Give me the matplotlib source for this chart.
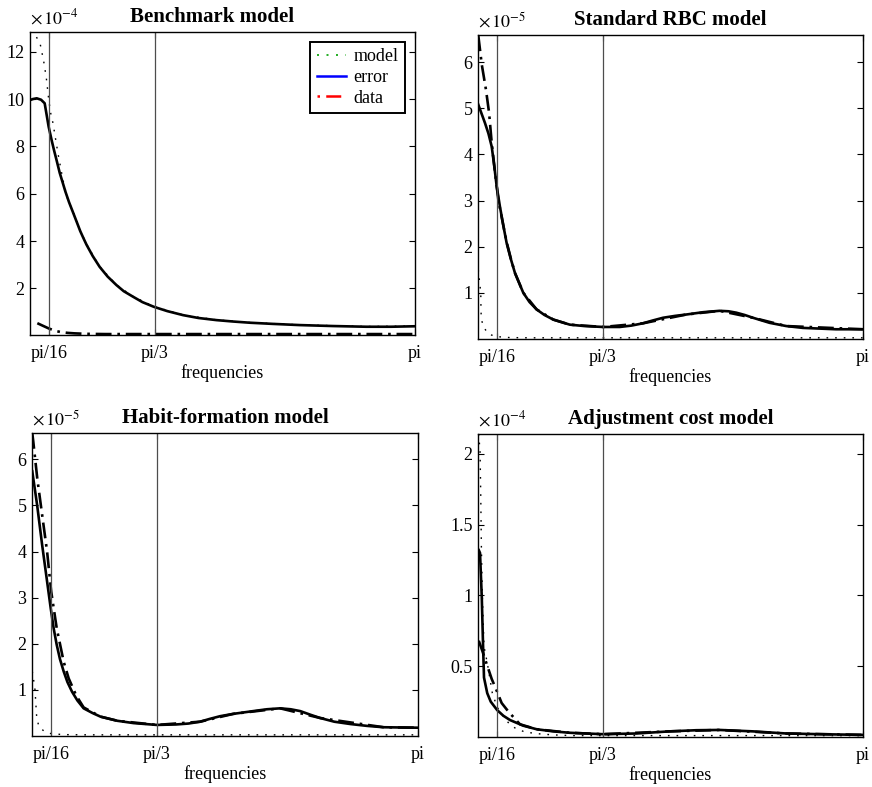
import numpy as np
import matplotlib.pyplot as plt
from matplotlib.lines import Line2D

plt.rcParams['font.family'] = ['Liberation Serif', 'DejaVu Serif']
plt.rcParams['mathtext.fontset'] = 'stix'
plt.rcParams['font.size'] = 13

# frequencies in radians; spectra in units of the power printed above each axis

# Benchmark model (x 1e-4)
bench_model_x = [0.043, 0.07, 0.097, 0.129, 0.156, 0.177, 0.194, 0.21, 0.23, 0.271, 0.311, 0.351,
                 0.392, 0.45, 0.5, 0.606, 0.741, 0.874, 1.043, 1.277, 1.545, 1.813, 2.215, 2.75, 3.14]
bench_model_y = [12.83, 12.75, 12.63, 12.3, 11.6, 10.9, 10.1, 9.46, 9.0, 7.7, 6.58, 5.73,
                 5.25, 4.45, 3.87, 2.92, 2.15, 1.66, 1.23, 0.88, 0.67, 0.56, 0.46, 0.39, 0.41]
bench_err_x = [0.043, 0.07, 0.1, 0.135, 0.164, 0.196, 0.22, 0.24, 0.26, 0.285, 0.31, 0.33, 0.36,
               0.392, 0.42, 0.45, 0.475, 0.5, 0.55, 0.606, 0.67, 0.741, 0.8, 0.874, 0.95, 1.043,
               1.15, 1.277, 1.4, 1.545, 1.68, 1.813, 2.0, 2.215, 2.48, 2.75, 2.95, 3.14]
bench_err_y = [9.95, 10.0, 10.03, 9.97, 9.82, 8.83, 8.26, 7.82, 7.41, 6.88, 6.45, 6.1, 5.64,
               5.21, 4.83, 4.42, 4.13, 3.85, 3.37, 2.91, 2.5, 2.14, 1.88, 1.65, 1.42, 1.22,
               1.04, 0.87, 0.75, 0.66, 0.6, 0.55, 0.5, 0.45, 0.41, 0.38, 0.38, 0.40]
bench_data_x = [0.105, 0.15, 0.196, 0.252, 0.3, 0.35, 0.405, 0.5, 0.65, 0.8, 1.0, 1.3, 1.6, 2.0, 2.4, 2.8, 3.14]
bench_data_y = [0.53, 0.42, 0.31, 0.2, 0.15, 0.12, 0.1, 0.08, 0.07, 0.07, 0.07, 0.07, 0.07, 0.07, 0.07, 0.07, 0.07]

# Standard RBC model (x 1e-5)
rbc_model_x = [0.048, 0.06, 0.068, 0.07, 0.073, 0.094, 0.134, 0.2, 0.3, 0.45, 0.7, 1.0, 1.5, 2.0, 2.5, 3.14]
rbc_model_y = [1.5, 1.2, 1.0, 0.6, 0.42, 0.24, 0.10, 0.05, 0.03, 0.025, 0.025, 0.025, 0.025, 0.025, 0.025, 0.025]
rbc_err_x = [0.048, 0.075, 0.102, 0.13, 0.156, 0.176, 0.196, 0.222, 0.25, 0.276, 0.31, 0.343, 0.41,
             0.46, 0.517, 0.58, 0.651, 0.784, 0.9, 1.052, 1.186, 1.28, 1.373, 1.45, 1.534, 1.63,
             1.721, 1.855, 1.988, 2.06, 2.122, 2.19, 2.256, 2.39, 2.524, 2.658, 2.925, 3.14]
rbc_err_y = [5.08, 4.88, 4.68, 4.45, 4.17, 3.76, 3.31, 2.87, 2.45, 2.08, 1.73, 1.43, 1.0,
             0.8, 0.64, 0.52, 0.42, 0.31, 0.28, 0.26, 0.26, 0.29, 0.34, 0.4, 0.46, 0.5,
             0.53, 0.58, 0.61, 0.6, 0.57, 0.52, 0.46, 0.35, 0.28, 0.24, 0.21, 0.21]
rbc_data_x = [0.048, 0.076, 0.11, 0.135, 0.156, 0.183, 0.21, 0.25, 0.276, 0.31, 0.343, 0.41, 0.517,
              0.651, 0.784, 1.052, 1.373, 1.721, 1.988, 2.256, 2.524, 3.14]
rbc_data_y = [6.58, 5.95, 5.4, 4.9, 4.25, 3.6, 3.0, 2.45, 2.1, 1.74, 1.43, 1.0, 0.64,
              0.42, 0.31, 0.26, 0.34, 0.53, 0.61, 0.46, 0.28, 0.21]

# Habit-formation model (x 1e-5)
habit_model_x = [0.048, 0.06, 0.07, 0.084, 0.102, 0.145, 0.2, 0.3, 0.5, 1.0, 1.5, 2.0, 2.5, 3.14]
habit_model_y = [1.4, 1.2, 1.0, 0.39, 0.2, 0.1, 0.05, 0.03, 0.025, 0.025, 0.025, 0.025, 0.025, 0.025]
habit_err_x = [0.048, 0.087, 0.127, 0.167, 0.196, 0.22, 0.244, 0.27, 0.3, 0.33, 0.367, 0.41, 0.46,
               0.53, 0.595, 0.73, 0.86, 1.047, 1.2, 1.3, 1.394, 1.47, 1.555, 1.66, 1.82, 1.93,
               2.036, 2.12, 2.197, 2.28, 2.357, 2.47, 2.598, 2.73, 2.865, 3.14]
habit_err_y = [5.74, 5.01, 4.15, 3.35, 2.77, 2.33, 1.98, 1.67, 1.40, 1.17, 0.96, 0.77, 0.60,
               0.5, 0.42, 0.33, 0.28, 0.24, 0.25, 0.27, 0.31, 0.37, 0.43, 0.48, 0.54, 0.58,
               0.60, 0.58, 0.54, 0.46, 0.39, 0.31, 0.26, 0.22, 0.19, 0.18]
habit_data_x = [0.048, 0.056, 0.088, 0.127, 0.167, 0.2, 0.244, 0.3, 0.34, 0.4, 0.46, 0.595, 0.73,
                1.047, 1.394, 1.66, 2.036, 2.357, 2.865, 3.14]
habit_data_y = [6.57, 6.39, 5.59, 4.8, 4.0, 3.13, 2.34, 1.61, 1.25, 0.88, 0.62, 0.42, 0.33,
                0.24, 0.31, 0.48, 0.60, 0.39, 0.19, 0.18]

# Adjustment cost model (x 1e-4)
adj_model_x = [0.05, 0.062, 0.068, 0.073, 0.081, 0.094, 0.121, 0.161, 0.2, 0.255, 0.3, 0.35, 0.41,
               0.5, 0.65, 0.8, 1.0, 1.5, 2.0, 2.5, 3.14]
adj_model_y = [2.14, 2.03, 1.70, 1.34, 0.99, 0.64, 0.52, 0.31, 0.21, 0.14, 0.09, 0.06, 0.04,
               0.025, 0.015, 0.01, 0.01, 0.01, 0.01, 0.01, 0.01]
adj_err_x = [0.052, 0.062, 0.076, 0.086, 0.094, 0.12, 0.148, 0.2, 0.25, 0.303, 0.41, 0.517, 0.65,
             0.784, 1.052, 1.32, 1.587, 1.8, 1.988, 2.256, 2.524, 2.8, 3.14]
adj_err_y = [1.32, 1.30, 0.99, 0.66, 0.42, 0.31, 0.25, 0.19, 0.15, 0.12, 0.08, 0.055, 0.04,
             0.03, 0.02, 0.025, 0.04, 0.048, 0.05, 0.04, 0.025, 0.02, 0.015]
adj_data_x = [0.052, 0.084, 0.11, 0.156, 0.19, 0.236, 0.29, 0.383, 0.517, 0.784, 1.052, 1.587,
              1.988, 2.524, 3.14]
adj_data_y = [0.68, 0.6, 0.53, 0.41, 0.34, 0.24, 0.18, 0.09, 0.055, 0.03, 0.02, 0.04,
              0.05, 0.025, 0.015]

freq_ticks = [np.pi / 16, np.pi / 3, np.pi]
freq_labels = ['pi/16', 'pi/3', 'pi']
xmin = 0.046


def drawPanel(ax, title, expo, model, error, data, ylim, yticks, yticklabels, title_x=0.5):
    ax.plot(model[0], model[1], color='k', linestyle=(0, (1.2, 5)), linewidth=1.0)
    ax.plot(error[0], error[1], color='k', linestyle='-', linewidth=1.9)
    ax.plot(data[0], data[1], color='k', linestyle=(0, (6, 2.2, 1, 2.2)), linewidth=1.9)

    # band limits
    for f in (np.pi / 16, np.pi / 3):
        ax.axvline(f, color='0.3', linewidth=0.9)

    ax.set_xlim(xmin, np.pi)
    ax.set_ylim(ylim)
    ax.set_xticks(freq_ticks)
    ax.set_xticklabels(freq_labels)
    ax.set_yticks(yticks)
    ax.set_yticklabels(yticklabels)
    ax.tick_params(direction='in', top=True, right=True, length=4, width=0.8)
    ax.tick_params(axis='x', pad=7)
    ax.tick_params(axis='y', pad=4)
    for s in ax.spines.values():
        s.set_linewidth(1.0)
    ax.set_xlabel('frequencies', labelpad=2)
    ax.set_title(title, fontweight='bold', fontsize=15, pad=7, x=title_x)
    ax.text(0.0, 1.012, r'$\times\,10^{%d}$' % expo, transform=ax.transAxes,
            ha='left', va='bottom', fontsize=13)


fig = plt.figure(figsize=(8.72, 7.87), dpi=100)
ax1 = fig.add_axes([0.0344, 0.5743, 0.4415, 0.3850])
ax2 = fig.add_axes([0.5482, 0.5693, 0.4415, 0.3863])
ax3 = fig.add_axes([0.0367, 0.0648, 0.4427, 0.3850])
ax4 = fig.add_axes([0.5482, 0.0635, 0.4415, 0.3850])

drawPanel(ax1, 'Benchmark model', -4,
          (bench_model_x, bench_model_y), (bench_err_x, bench_err_y), (bench_data_x, bench_data_y),
          (0.03, 12.83), [2, 4, 6, 8, 10, 12], ['2', '4', '6', '8', '10', '12'], title_x=0.474)
drawPanel(ax2, 'Standard RBC model', -5,
          (rbc_model_x, rbc_model_y), (rbc_err_x, rbc_err_y), (rbc_data_x, rbc_data_y),
          (0.0, 6.59), [1, 2, 3, 4, 5, 6], ['1', '2', '3', '4', '5', '6'])
drawPanel(ax3, 'Habit-formation model', -5,
          (habit_model_x, habit_model_y), (habit_err_x, habit_err_y), (habit_data_x, habit_data_y),
          (0.0, 6.57), [1, 2, 3, 4, 5, 6], ['1', '2', '3', '4', '5', '6'])
drawPanel(ax4, 'Adjustment cost model', -4,
          (adj_model_x, adj_model_y), (adj_err_x, adj_err_y), (adj_data_x, adj_data_y),
          (0.0, 2.14), [0.5, 1, 1.5, 2], ['0.5', '1', '1.5', '2'])

# legend keeps the coloured line styles
handles = [Line2D([], [], color='#00a000', linestyle=(0, (1.2, 4.5)), linewidth=1.2),
           Line2D([], [], color='#0000ff', linestyle='-', linewidth=1.8),
           Line2D([], [], color='#ff0000', linestyle=(0, (1, 2.5, 6, 2.5)), linewidth=1.8)]
leg = ax1.legend(handles, ['model', 'error', 'data'], loc='upper right', fontsize=13,
                 handlelength=1.6, handletextpad=0.45, labelspacing=0.2, borderpad=0.35,
                 borderaxespad=0.55, fancybox=False, framealpha=1)
leg.get_frame().set_edgecolor('k')
leg.get_frame().set_linewidth(1.4)

fig.savefig('out.png', dpi=100)
